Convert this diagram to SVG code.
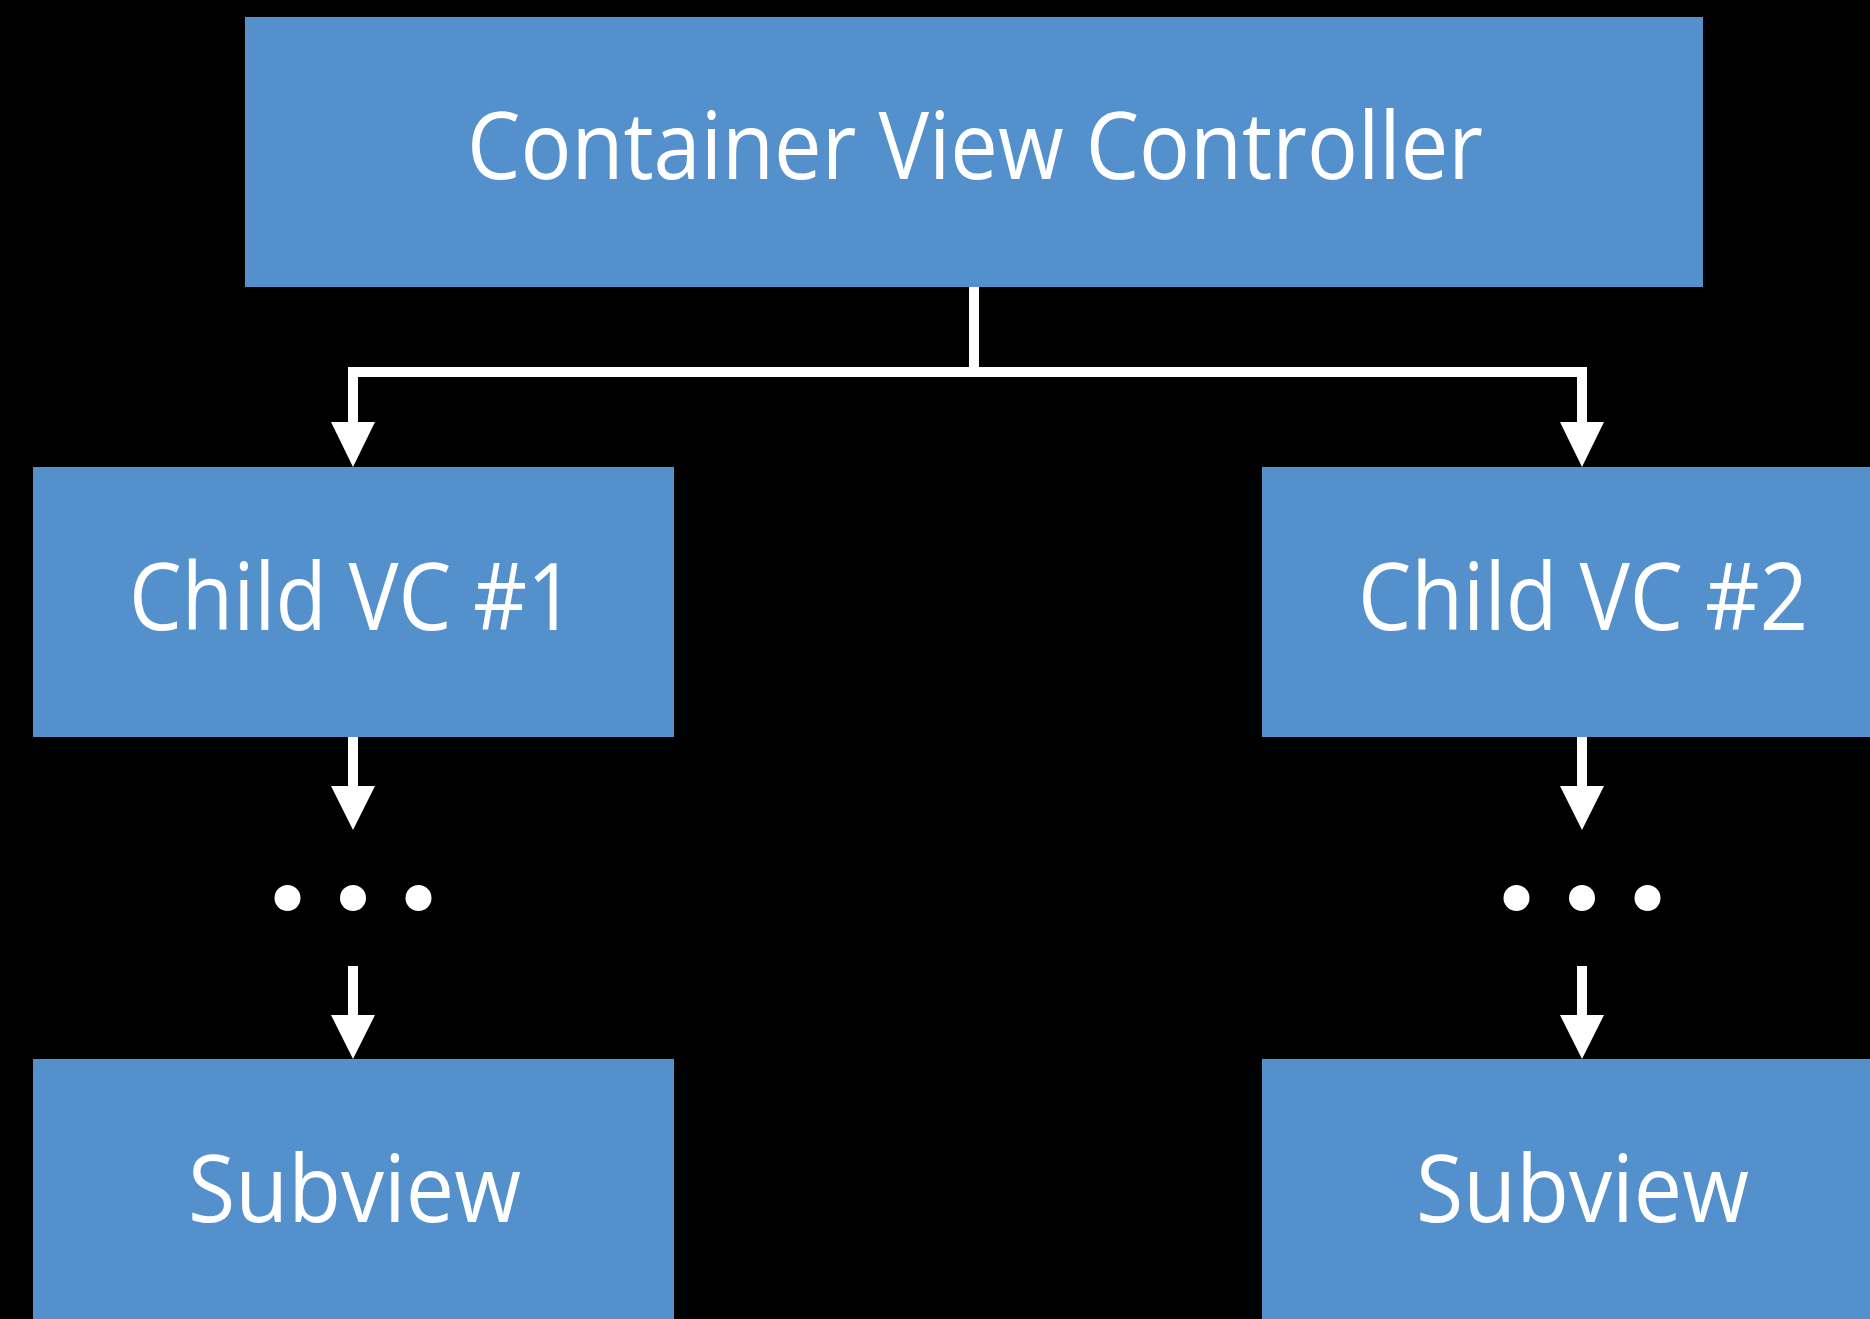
<svg xmlns="http://www.w3.org/2000/svg" width="1870" height="1319" viewBox="0 0 1870 1319">
<style>
.box{fill:#5390cc}
.lbl{fill:#ffffff;font-family:"Open Sans","Noto Sans","Liberation Sans",sans-serif;font-size:94px}
.wire{fill:none;stroke:#ffffff;stroke-width:10;stroke-linejoin:miter;stroke-linecap:butt}
.head{fill:#ffffff}
.dot{fill:#ffffff}
</style>
<rect width="1870" height="1319" fill="#000000"/>
<g id="connectors">
<path class="wire" d="M974 287 V372 M353 423 V372 H1582 V423"/>
<polygon class="head" points="331,422 375,422 353,467"/>
<polygon class="head" points="1560,422 1604,422 1582,467"/>
<path class="wire" d="M353 737 V787 M1582 737 V787 M353 966 V1016 M1582 966 V1016"/>
<polygon class="head" points="331,786 375,786 353,830"/>
<polygon class="head" points="1560,786 1604,786 1582,830"/>
<polygon class="head" points="331,1015 375,1015 353,1059"/>
<polygon class="head" points="1560,1015 1604,1015 1582,1059"/>
</g>
<g id="container">
<rect class="box" x="245" y="17" width="1458" height="270"/>
<text class="lbl" x="467" y="179" textLength="1016" lengthAdjust="spacingAndGlyphs">Container View Controller</text>
</g>
<g id="child1">
<rect class="box" x="33" y="467" width="641" height="270"/>
<text class="lbl" x="129" y="630" textLength="446" lengthAdjust="spacingAndGlyphs">Child VC #1</text>
</g>
<g id="child2">
<rect class="box" x="1262" y="467" width="640" height="270"/>
<text class="lbl" x="1358" y="630" textLength="450" lengthAdjust="spacingAndGlyphs">Child VC #2</text>
</g>
<g id="ellipsis1">
<circle class="dot" cx="287.5" cy="898" r="13"/>
<circle class="dot" cx="353" cy="898" r="13"/>
<circle class="dot" cx="418.5" cy="898" r="13"/>
</g>
<g id="ellipsis2">
<circle class="dot" cx="1516.5" cy="898" r="13"/>
<circle class="dot" cx="1582" cy="898" r="13"/>
<circle class="dot" cx="1647.5" cy="898" r="13"/>
</g>
<g id="subview1">
<rect class="box" x="33" y="1059" width="641" height="270"/>
<text class="lbl" x="188" y="1222" textLength="333" lengthAdjust="spacingAndGlyphs">Subview</text>
</g>
<g id="subview2">
<rect class="box" x="1262" y="1059" width="640" height="270"/>
<text class="lbl" x="1416" y="1222" textLength="333" lengthAdjust="spacingAndGlyphs">Subview</text>
</g>
</svg>
